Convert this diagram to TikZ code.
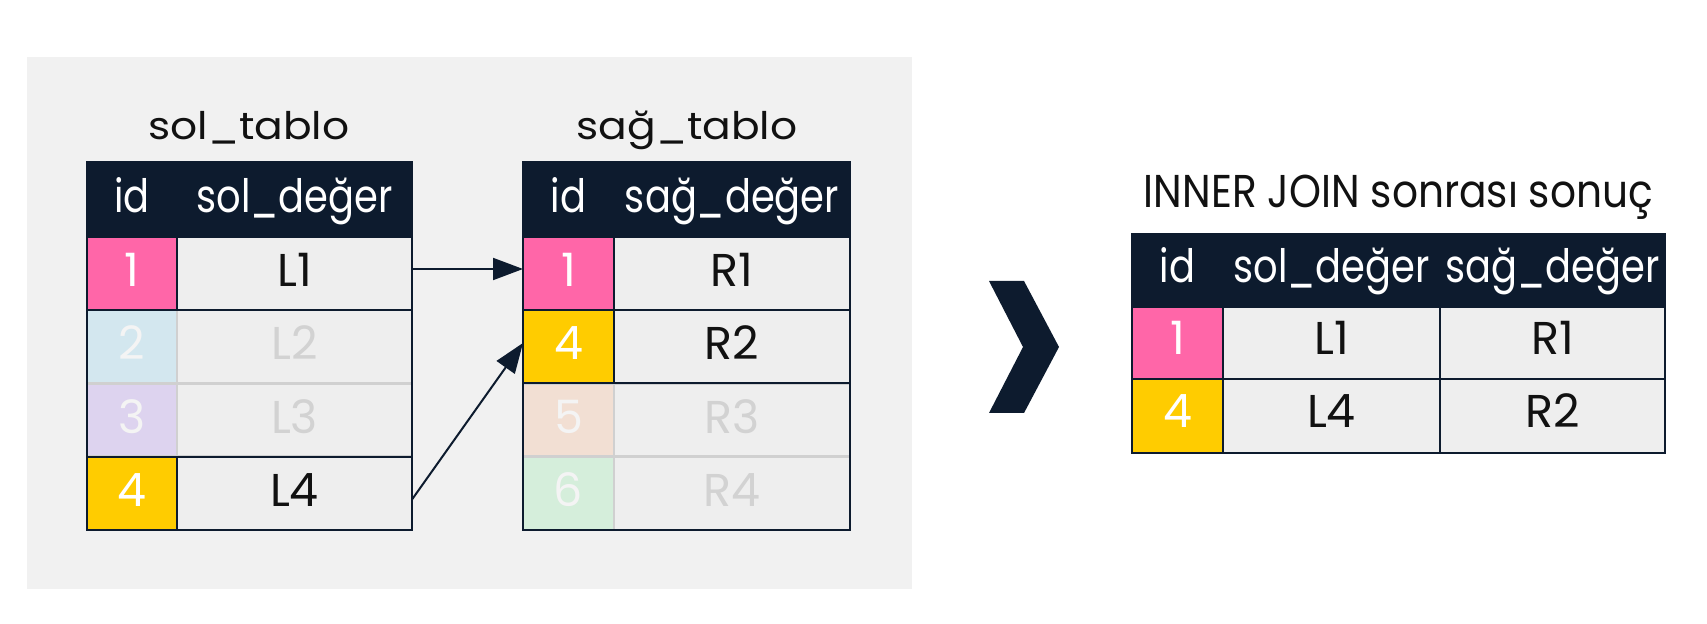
\documentclass[tikz,border=0pt]{standalone}
\usepackage{fontspec}
\setmainfont{Poppins}
\usetikzlibrary{arrows.meta}
\definecolor{navy}{HTML}{0D1B2E}
\definecolor{panel}{HTML}{F1F1F1}
\definecolor{cellgray}{HTML}{EEEEEE}
\definecolor{ink}{HTML}{111111}
\definecolor{pinkid}{HTML}{FF66A8}
\definecolor{yellowid}{HTML}{FFCC00}
\definecolor{fblue}{HTML}{D3E7EF}
\definecolor{fpurple}{HTML}{DDD3EF}
\definecolor{fpeach}{HTML}{F2DFD3}
\definecolor{fgreen}{HTML}{D5EEDB}
\definecolor{fline}{HTML}{D0D0D0}
\definecolor{ftext}{HTML}{D2D2D2}
\definecolor{fidtext}{HTML}{F4F4F4}
\newcommand{\hdtxt}[1]{\scalebox{0.835}[1]{#1}}
\newcommand{\tbltitle}[1]{\scalebox{1.115}[1]{#1}}
\begin{document}
\begin{tikzpicture}[x=0.5pt,y=-0.5pt,
  cell/.style={rectangle, inner sep=0pt, outer sep=0pt, text height=13.5pt, text depth=0pt,
    font=\fontsize{23}{27}\selectfont, line width=1.25pt},
  rcell/.style={cell, text height=11.75pt},
  hd/.style={fill=navy, draw=navy, text=white},
  idc/.style={draw=navy, text=white},
  val/.style={fill=cellgray, draw=navy, text=ink},
  fid/.style={draw=fline, text=fidtext},
  fval/.style={fill=cellgray, draw=fline, text=ftext},
  lid/.style={minimum width=45pt, minimum height=36.5pt},
  lv/.style={minimum width=117.5pt, minimum height=36.5pt},
  rid/.style={minimum width=45.5pt, minimum height=36.5pt},
  rv/.style={minimum width=118pt, minimum height=36.5pt},
  qid/.style={minimum width=45.5pt},
  qsol/.style={minimum width=108.5pt},
  qsag/.style={minimum width=112.5pt},
  title/.style={anchor=base, inner sep=0pt, text=ink},
  link/.style={draw=navy, line width=1pt, -{Triangle[length=15pt,width=11pt]}}
]
\useasboundingbox (0,0) rectangle (1707,624);
\fill[white] (0,0) rectangle (1707,624);
\fill[panel] (27,57) rectangle (912,589);

% ---------- left table ----------
\node[title, font=\fontsize{19}{23}\selectfont] (t1) at (249,140) {\tbltitle{sol\_tablo}};
\node[cell, hd, lid, minimum height=37.5pt] (lh1) at (132,199.5) {\hdtxt{id}};
\node[cell, hd, lv, minimum height=37.5pt] (lh2) at (294.5,199.5) {\hdtxt{sol\_değer}};
\node[cell, fid, lid, fill=fblue] (l2id) at (132,346.5) {2};
\node[cell, fval, lv] (l2v) at (294.5,346.5) {L2};
\node[cell, fid, lid, fill=fpurple] (l3id) at (132,420) {3};
\node[cell, fval, lv] (l3v) at (294.5,420) {L3};
\node[cell, idc, lid, fill=pinkid] (l1id) at (132,273.5) {1};
\node[cell, val, lv] (l1v) at (294.5,273.5) {L1};
\node[cell, idc, lid, fill=yellowid] (l4id) at (132,493.5) {4};
\node[cell, val, lv] (l4v) at (294.5,493.5) {L4};
\draw[navy, line width=1.25pt] (lh1.north west) rectangle (l4v.south east);

% ---------- right table ----------
\node[title, font=\fontsize{19}{23}\selectfont] (t2) at (687,140) {\tbltitle{sağ\_tablo}};
\node[cell, hd, rid, minimum height=37.5pt] (rh1) at (568.5,199.5) {\hdtxt{id}};
\node[cell, hd, rv, minimum height=37.5pt] (rh2) at (732,199.5) {\hdtxt{sağ\_değer}};
\node[cell, fid, rid, fill=fpeach] (r3id) at (568.5,420) {5};
\node[cell, fval, rv] (r3v) at (732,420) {R3};
\node[cell, fid, rid, fill=fgreen] (r4id) at (568.5,493.5) {6};
\node[cell, fval, rv] (r4v) at (732,493.5) {R4};
\node[cell, idc, rid, fill=pinkid] (r1id) at (568.5,273.5) {1};
\node[cell, val, rv] (r1v) at (732,273.5) {R1};
\node[cell, idc, rid, fill=yellowid] (r2id) at (568.5,346.5) {4};
\node[cell, val, rv] (r2v) at (732,346.5) {R2};
\draw[navy, line width=1.25pt] (rh1.north west) rectangle (r4v.south east);

% ---------- links ----------
\draw[link] ([yshift=2.25pt]l1v.east) -- ([yshift=2.25pt]r1id.west);
\draw[link] ([yshift=-3pt]l4v.east) -- ([yshift=1.75pt]r2id.west);

% ---------- chevron ----------
\fill[navy] (989,281) -- (1024,281) -- (1059,347) -- (1024,413) -- (989,413) -- (1023,347) -- cycle;

% ---------- result table ----------
\node[title, font=\fontsize{23}{27}\selectfont] (t3) at (1398.5,208) {\scalebox{0.885}[1]{INNER JOIN sonrası sonuç}};
\node[rcell, hd, qid, minimum height=36.5pt] (qh1) at (1177.5,270.5) {\hdtxt{id}};
\node[rcell, hd, qsol, minimum height=36.5pt] (qh2) at (1331.5,270.5) {\hdtxt{sol\_değer}};
\node[rcell, hd, qsag, minimum height=36.5pt] (qh3) at (1552.5,270.5) {\hdtxt{sağ\_değer}};
\node[rcell, idc, fill=pinkid, qid, minimum height=36pt] (q1id) at (1177.5,343) {1};
\node[rcell, val, qsol, minimum height=36pt] (q1l) at (1331.5,343) {L1};
\node[rcell, val, qsag, minimum height=36pt] (q1r) at (1552.5,343) {R1};
\node[rcell, idc, fill=yellowid, qid, minimum height=37pt] (q2id) at (1177.5,416) {4};
\node[rcell, val, qsol, minimum height=37pt] (q2l) at (1331.5,416) {L4};
\node[rcell, val, qsag, minimum height=37pt] (q2r) at (1552.5,416) {R2};
\draw[navy, line width=1.25pt] (qh1.north west) rectangle (q2r.south east);
\end{tikzpicture}
\end{document}
